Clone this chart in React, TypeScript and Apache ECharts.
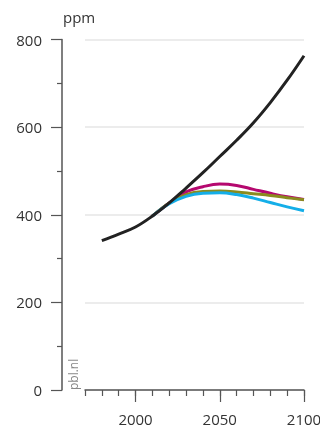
import React, { useEffect, useRef } from "react";
import * as echarts from "echarts";

const years = [1980, 1990, 2000, 2010, 2020, 2030, 2040, 2050, 2060, 2070, 2080, 2090, 2100];
const blackValues = [341, 356, 372, 397, 427, 461, 496, 533, 570, 610, 656, 707, 763];
const colorYears = [2010, 2020, 2030, 2040, 2050, 2060, 2070, 2080, 2090, 2100];
const magentaValues = [397, 427, 452, 464, 470, 467, 458, 449, 441, 435];
const oliveValues = [397, 427, 446, 453, 454, 452, 448, 444, 439, 434];
const blueValues = [397, 425, 442, 449, 450, 446, 438, 428, 418, 409];
const majorYears = [2000, 2050, 2100];
const yUnit = "ppm";
const source = "pbl.nl";

const FONT = "'Open Sans', 'Noto Sans', sans-serif";
const AXIS = "#555555";

export default function App() {
  const ref = useRef<HTMLDivElement>(null);
  useEffect(() => {
    if (!ref.current) return;
    const chart = echarts.init(ref.current, null, { renderer: "svg" });
    const pair = (xs: number[], ys: number[]) => xs.map((x, i) => [x, ys[i]]);
    const line = (name: string, color: string, data: number[][]) => ({
      type: "line",
      name,
      data,
      smooth: 0.4,
      symbol: "none",
      lineStyle: { color, width: 3 },
      xAxisIndex: 0,
    });
    chart.setOption({
      animation: false,
      grid: { left: 85, right: 16, top: 39.5, bottom: 42, containLabel: false, outerBoundsMode: "none" },
      textStyle: { fontFamily: FONT },
      xAxis: [
        {
          type: "value",
          min: 1970,
          max: 2100,
          interval: 10,
          axisLine: { show: true, lineStyle: { color: AXIS, width: 1.5 } },
          axisTick: { show: true, length: 6, lineStyle: { color: AXIS, width: 1.2 } },
          axisLabel: { show: false },
          splitLine: { show: false },
        },
        {
          type: "value",
          min: 1970,
          max: 2100,
          position: "bottom",
          axisLine: { show: false },
          axisTick: { show: true, length: 12, customValues: majorYears, lineStyle: { color: AXIS, width: 1.2 } },
          axisLabel: {
            show: true,
            customValues: majorYears,
            formatter: (v: number) => String(v),
            margin: 21,
            fontSize: 15,
            color: "#333",
            fontFamily: FONT,
            hideOverlap: false,
          },
          splitLine: { show: false },
        },
      ],
      yAxis: {
        type: "value",
        min: 0,
        max: 800,
        interval: 200,
        offset: 23,
        axisLine: { show: true, lineStyle: { color: AXIS, width: 1.5 } },
        axisTick: { show: true, length: 11, lineStyle: { color: AXIS, width: 1.2 } },
        minorTick: { show: true, splitNumber: 2, length: 5, lineStyle: { color: AXIS, width: 1.2 } },
        axisLabel: { margin: 20, fontSize: 15, color: "#333", fontFamily: FONT, formatter: (v: number) => String(v) },
        splitLine: { show: true, lineStyle: { color: "#e6e6e6", width: 1.5 } },
      },
      graphic: [
        {
          type: "text",
          x: 63,
          y: 17,
          style: { text: yUnit, fontSize: 15, fill: "#333", fontFamily: FONT, textAlign: "left", textVerticalAlign: "middle" },
        },
        {
          type: "text",
          x: 73,
          y: 390,
          rotation: Math.PI / 2,
          style: { text: source, fontSize: 12, fill: "#888", fontFamily: FONT, textAlign: "left", textVerticalAlign: "middle" },
        },
      ],
      series: [
        line("magenta", "#b5086f", pair(colorYears, magentaValues)),
        line("olive", "#8a8b1e", pair(colorYears, oliveValues)),
        line("blue", "#14aee8", pair(colorYears, blueValues)),
        line("black", "#222222", pair(years, blackValues)),
      ],
    });
    return () => chart.dispose();
  }, []);
  return <div ref={ref} style={{ position: "fixed", left: 0, top: 0, width: 320, height: 432 }} />;
}
